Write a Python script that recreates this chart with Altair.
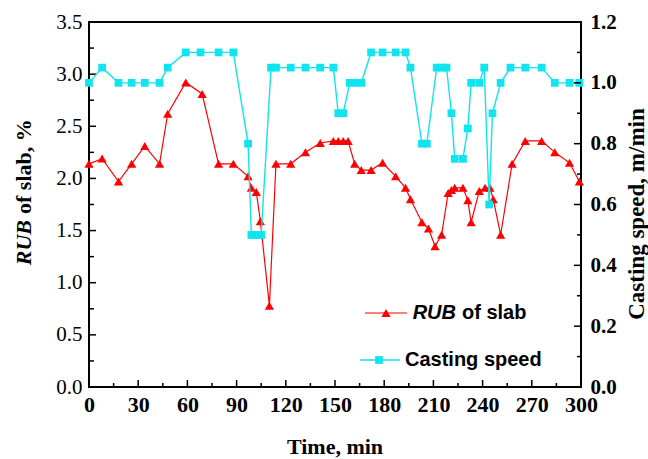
import altair as alt
import pandas as pd

# ---- data ----
time_rub = [0, 8, 18, 26, 34, 43, 48, 59, 69, 79, 88, 97, 99, 102, 104.5, 110, 114, 123, 132, 141,
            149, 152, 155, 158, 162, 166, 172, 179, 187, 193, 196, 203, 207, 211, 215, 219, 221, 223,
            228, 231, 233, 238, 241.5, 244.5, 246.5, 251, 258, 266, 276, 284, 293, 299]
rub = [2.14, 2.19, 1.97, 2.14, 2.31, 2.14, 2.62, 2.92, 2.81, 2.14, 2.14, 2.02, 1.91, 1.87, 1.59, 0.78,
       2.14, 2.14, 2.25, 2.34, 2.36, 2.36, 2.36, 2.36, 2.14, 2.08, 2.08, 2.15, 2.02, 1.91, 1.80, 1.58,
       1.52, 1.35, 1.46, 1.86, 1.89, 1.91, 1.91, 1.79, 1.58, 1.88, 1.91, 1.91, 1.80, 1.46, 2.14, 2.36,
       2.36, 2.25, 2.15, 1.97]

time_speed = [0, 8, 18, 26, 34, 43, 48, 59, 68, 79, 88, 97, 99, 101, 103, 105, 111, 114, 123, 132,
              141, 149, 152, 155, 159, 162, 166, 172, 179, 187, 193, 196, 203, 206, 212, 215, 218, 221,
              223, 228, 231, 233, 238, 241, 244, 246, 251, 257, 266, 276, 284, 293, 299]
speed = [1.00, 1.05, 1.00, 1.00, 1.00, 1.00, 1.05, 1.10, 1.10, 1.10, 1.10, 0.80, 0.50, 0.50, 0.50,
         0.50, 1.05, 1.05, 1.05, 1.05, 1.05, 1.05, 0.90, 0.90, 1.00, 1.00, 1.00, 1.10, 1.10, 1.10,
         1.10, 1.05, 0.80, 0.80, 1.05, 1.05, 1.05, 0.90, 0.75, 0.75, 0.85, 1.00, 1.00, 1.05, 0.60,
         0.90, 1.00, 1.05, 1.05, 1.05, 1.00, 1.00, 1.00]

x_ticks = list(range(0, 301, 30))
x_minor = list(range(15, 300, 30))
left_ticks = [0.0, 0.5, 1.0, 1.5, 2.0, 2.5, 3.0, 3.5]
left_minor = [0.25, 0.75, 1.25, 1.75, 2.25, 2.75, 3.25]
right_ticks = [0.0, 0.2, 0.4, 0.6, 0.8, 1.0, 1.2]
right_minor = [0.1, 0.3, 0.5, 0.7, 0.9, 1.1]

RED = "#FF0000"
CYAN = "#10E4EE"
SERIF = "Liberation Serif"
SANS = "Liberation Sans"
W, H = 492, 365

rub_df = pd.DataFrame({"t": time_rub, "v": rub})
speed_df = pd.DataFrame({"t": time_speed, "v": speed})
one = pd.DataFrame({"a": [0]})

x_axis = alt.Axis(values=x_ticks, format="d", title=None, ticks=False, domain=False, grid=False,
                  labelFont=SERIF, labelFontSize=22, labelFontWeight="bold", labelPadding=7,
                  labelColor="black", labelFlush=False, labelOverlap=False)
x_scale = alt.Scale(domain=[0, 300], nice=False, zero=False)
left_axis = alt.Axis(values=left_ticks, format=".1f", title=None, ticks=False, domain=False,
                     grid=False, orient="left", labelFont=SERIF, labelFontSize=21,
                     labelFontWeight="normal", labelPadding=7, labelColor="black",
                     labelFlush=False, labelOverlap=False)
left_scale = alt.Scale(domain=[0, 3.5], nice=False, zero=False)
right_axis = alt.Axis(values=right_ticks, format=".1f", title=None, ticks=False, domain=False,
                      grid=False, orient="right", labelFont=SERIF, labelFontSize=21,
                      labelFontWeight="bold", labelPadding=9, labelColor="black",
                      labelFlush=False, labelOverlap=False)
right_scale = alt.Scale(domain=[0, 1.2], nice=False, zero=False)


def X(field="t"):
    return alt.X(f"{field}:Q", scale=x_scale, axis=x_axis)


def YL(field="v"):
    return alt.Y(f"{field}:Q", scale=left_scale, axis=left_axis)


def YR(field="v"):
    return alt.Y(f"{field}:Q", scale=right_scale, axis=right_axis)


rub_line = alt.Chart(rub_df).mark_line(
    color=RED, strokeWidth=1.2,
    point=alt.OverlayMarkDef(shape="triangle-up", filled=True, size=85, color=RED)
).encode(x=X(), y=YL())

speed_line = alt.Chart(speed_df).mark_line(
    color=CYAN, strokeWidth=1.4,
    point=alt.OverlayMarkDef(shape="square", filled=True, size=60, color=CYAN)
).encode(x=X(), y=YR())

# inward ticks
xt_major = alt.Chart(pd.DataFrame({"t": x_ticks})).mark_rule(color="black", strokeWidth=1.5).encode(
    x=X(), y=alt.value(H), y2=alt.value(H - 7))
xt_minor = alt.Chart(pd.DataFrame({"t": x_minor})).mark_rule(color="black", strokeWidth=1.5).encode(
    x=X(), y=alt.value(H), y2=alt.value(H - 4))
lt_major = alt.Chart(pd.DataFrame({"v": left_ticks})).mark_rule(color="black", strokeWidth=1.5).encode(
    y=YL(), x=alt.value(0), x2=alt.value(7))
lt_minor = alt.Chart(pd.DataFrame({"v": left_minor})).mark_rule(color="black", strokeWidth=1.5).encode(
    y=YL(), x=alt.value(0), x2=alt.value(5))
rt_major = alt.Chart(pd.DataFrame({"v": right_ticks})).mark_rule(color="black", strokeWidth=1.5).encode(
    y=YR(), x=alt.value(W), x2=alt.value(W - 7))
rt_minor = alt.Chart(pd.DataFrame({"v": right_minor})).mark_rule(color="black", strokeWidth=1.5).encode(
    y=YR(), x=alt.value(W), x2=alt.value(W - 4))


def txt(text, x, y, size=22, font=SERIF, style="normal", weight="bold", angle=0, align="left"):
    return alt.Chart(one).mark_text(
        text=text, font=font, fontSize=size, fontStyle=style, fontWeight=weight,
        angle=angle, align=align, baseline="middle", color="black"
    ).encode(x=alt.value(x), y=alt.value(y))


# axis titles (rotated: "RUB" runs down from the anchor, the rest runs up from it)
title_left_a = txt("RUB", -65, 198, style="italic", angle=270, align="right")
title_left_b = txt("of slab,  %", -65, 192, angle=270, align="left")
title_right = txt("Casting speed,  m/min", 548, 192, size=23, angle=270, align="center")
title_x = txt("Time, min", W / 2, 425, align="center")

# legend
leg1_line = alt.Chart(one).mark_rule(color=RED, strokeWidth=1.2).encode(
    x=alt.value(276), x2=alt.value(318), y=alt.value(291))
leg1_pt = alt.Chart(one).mark_point(shape="triangle-up", filled=True, size=85, color=RED, opacity=1).encode(
    x=alt.value(297), y=alt.value(291))
leg1_a = txt("RUB", 367, 291, size=20, font=SANS, style="italic", align="right")
leg1_b = txt("of slab", 373, 291, size=20, font=SANS, align="left")
leg2_line = alt.Chart(one).mark_rule(color=CYAN, strokeWidth=1.4).encode(
    x=alt.value(271), x2=alt.value(311), y=alt.value(338))
leg2_pt = alt.Chart(one).mark_point(shape="square", filled=True, size=60, color=CYAN, opacity=1).encode(
    x=alt.value(290), y=alt.value(338))
leg2_t = txt("Casting speed", 316, 338, size=20, font=SANS, align="left")

left = alt.layer(rub_line, xt_major, xt_minor, lt_major, lt_minor,
                 title_left_a, title_left_b, title_right, title_x,
                 leg1_line, leg1_pt, leg1_a, leg1_b, leg2_line, leg2_pt, leg2_t)
right = alt.layer(speed_line, rt_major, rt_minor)

chart = alt.layer(left, right).resolve_scale(y="independent").properties(
    width=W, height=H,
    padding={"left": 89, "top": 22, "right": 67, "bottom": 72},
    autosize=alt.AutoSizeParams(type="none"),
    background="white",
).configure_view(stroke="black", strokeWidth=2)

chart.save("out.html", embed_options={"renderer": "svg", "actions": False})
